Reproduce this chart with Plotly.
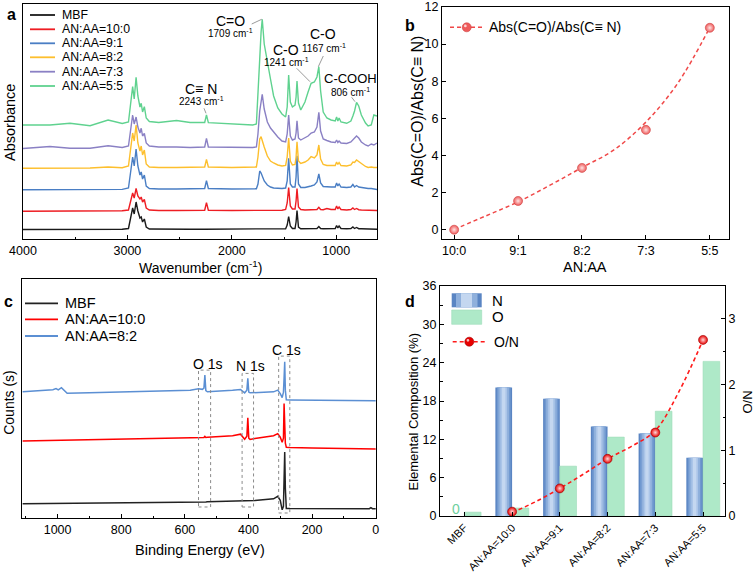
import plotly.graph_objects as go

W, H = 756, 579
FONT = "Arial, Liberation Sans, Helvetica, sans-serif"

# ---------------- (a) FTIR spectra (stacked) ----------------
ftir_names = ["MBF", "AN:AA=10:0", "AN:AA=9:1", "AN:AA=8:2", "AN:AA=7:3", "AN:AA=5:5"]
ftir_colors = ["#1a1a1a", "#ee1d23", "#4a7ec4", "#fdbf2d", "#8a80c4", "#5fd28f"]
wavenumber = [4000, 3742, 3550, 3358, 3185, 3050, 2990, 2965, 2950, 2935,
              2917, 2900, 2880, 2868, 2855, 2838, 2820, 2790, 2700, 2530,
              2400, 2260, 2243, 2225, 2000, 1800, 1765, 1750, 1733, 1720,
              1709, 1690, 1660, 1630, 1600, 1560, 1520, 1485, 1470, 1456,
              1440, 1420, 1395, 1385, 1376, 1362, 1340, 1300, 1270, 1241,
              1210, 1185, 1167, 1150, 1125, 1090, 1050, 1010, 997, 985,
              973, 955, 900, 860, 841, 825, 806, 785, 760, 720,
              695, 665, 640, 610]
abs_mbf = [9.5, 9.5, 9.6, 9.6, 9.7, 9.7, 10.5, 24, 31, 25,
           37, 28, 21, 22, 17, 20, 12, 10, 9.8, 9.8,
           9.8, 9.8, 9.8, 9.8, 9.8, 9.8, 9.8, 9.8, 9.8, 9.8,
           9.8, 9.8, 9.8, 9.8, 9.8, 9.8, 10, 10.3, 14, 22.5,
           13, 10.5, 10.5, 17, 28.5, 12, 10.3, 10.2, 10.2, 10.2,
           10.2, 10.5, 12.5, 10.5, 10.2, 10.2, 10.2, 10.5, 13.5, 11,
           13, 10.5, 10.3, 10.5, 12, 10.5, 11.5, 10.3, 10.2, 10,
           10, 9.9, 9.9, 9.8]
abs_an100 = [27.8, 27.8, 27.9, 28, 28, 28.2, 29, 40, 46, 41,
             50.5, 43, 40, 42, 37, 39.5, 31, 29, 28.5, 28.5,
             28.5, 28.8, 36.3, 28.8, 28.5, 28.5, 28.5, 28.5, 28.5, 28.5,
             28.5, 28.5, 28.5, 28.5, 28.5, 28.6, 28.8, 29.5, 36, 51.5,
             33, 30, 30, 38, 50.5, 32, 29.5, 29, 29, 29.5,
             29.3, 29.5, 31.7, 29.5, 29.3, 30.5, 29.5, 29.5, 33, 30,
             32, 29.5, 29, 29.5, 31, 29.5, 30.5, 29.3, 29, 28.8,
             28.5, 28.5, 28.5, 28.5]
abs_an91 = [49.2, 49.2, 49.3, 49.4, 49.5, 49.6, 51, 72, 82, 73,
            90, 73, 64, 67, 60, 64, 53, 50.5, 50, 50,
            50, 50.5, 58.3, 50.5, 50, 50, 50.3, 55, 68, 66,
            63, 58, 54, 52, 51, 50.5, 50.5, 51, 58, 80.7,
            55, 52, 52, 62, 83.3, 55, 51.5, 51.5, 52, 53,
            54, 57, 65, 56, 52.5, 52, 52, 52, 56, 53,
            55, 52, 51.5, 52, 54.5, 52, 53.5, 52, 51.5, 51,
            50.5, 50.5, 50, 49.5]
abs_an82 = [70.7, 70.8, 71, 71, 72, 71.3, 73, 98, 106, 98,
            114, 96, 88, 93, 84, 89, 75, 72, 71.5, 71.5,
            71.5, 72, 79.7, 72, 71.5, 71.5, 72, 82, 100, 102.3,
            98, 92, 83, 78, 76, 74, 73, 73.5, 82, 101,
            78, 74, 74.5, 82, 97.3, 78, 75.5, 77, 79, 82.3,
            81, 84, 94, 80, 74.5, 73.5, 73.5, 73.5, 77, 74.5,
            76.5, 73.5, 73, 74, 77, 76.5, 79, 77.5, 75, 72.5,
            71.5, 72, 71.5, 71.5]
abs_an73 = [90.5, 92.5, 90.8, 90.7, 93.3, 91.5, 93, 115, 124, 115,
            122, 112, 106, 110.7, 103, 105.7, 96, 93, 92, 92,
            91.5, 92, 100.7, 92, 91.5, 91.5, 92, 105, 128, 140,
            144.7, 130, 117, 111, 107, 102, 98, 97, 105, 124,
            103, 99, 100, 106, 118.3, 101, 99, 101, 103, 106,
            107, 112, 126.7, 108, 100, 98.5, 97, 96.5, 99, 96.5,
            98, 96, 95.5, 97, 99, 100, 103, 101, 97, 94,
            93, 95, 94, 96]
abs_an55 = [114, 114, 115.7, 113.3, 119, 115.5, 117, 143, 152.3, 140,
            161.7, 143, 132, 135.7, 127, 132.3, 121, 117.5, 116.5, 118.5,
            116.5, 116.5, 124, 116.3, 115, 114, 115, 140, 180, 207,
            219.7, 195, 176, 160, 143, 131, 125, 122, 132, 164,
            137, 132, 134, 142, 158, 136, 129, 137, 147, 155.7,
            157, 162, 172.3, 148, 127, 121, 119, 118, 122, 118,
            121, 117, 115.7, 118, 123, 128, 136.7, 133, 124, 116,
            113, 114, 124, 123]
ftir_series = [abs_mbf, abs_an100, abs_an91, abs_an82, abs_an73, abs_an55]

# ---------------- (b) absorbance ratio ----------------
ratio_labels = ["10:0", "9:1", "8:2", "7:3", "5:5"]
abs_ratio = [0.0, 1.55, 3.33, 5.38, 10.88]
ratio_fit_pos = [0, 0.5, 1, 1.5, 2, 2.5, 3, 3.5, 4]
ratio_fit = [0.02, 0.75, 1.5, 2.4, 3.35, 4.3, 5.8, 7.9, 10.9]

# ---------------- (c) XPS survey (stacked) ----------------
xps_names = ["MBF", "AN:AA=10:0", "AN:AA=8:2"]
xps_colors = ["#222222", "#ff0000", "#5b8fd3"]
binding_energy = [1110, 1015, 1005, 998, 988, 980, 970, 900, 700, 583,
                  557, 545, 540, 537, 534, 529, 450, 425, 412, 405,
                  402, 399, 395, 380, 321, 308, 300, 294, 290, 288,
                  286, 284, 281, 270, 200, 50, 20, 15, 10, 0]
counts_mbf = [14.5, 14.7, 14.7, 14.7, 14.8, 14.8, 14.8, 15.0, 15.6, 16.2,
              16.3, 16.4, 16.4, 16.4, 16.4, 16.5, 17.0, 17.2, 17.3, 17.4,
              17.4, 17.4, 17.5, 17.7, 19.5, 22, 18, 8.5, 12, 35,
              66.3, 30, 9.8, 9.7, 9.7, 9.6, 9.6, 10.6, 9.6, 9.5]
counts_an100 = [77.3, 77.8, 77.8, 77.9, 77.9, 77.9, 78, 78.4, 79.5, 80.3,
                80.5, 80.6, 80.7, 81.8, 80.8, 80.9, 82.5, 84, 79, 82,
                100.3, 80, 78.8, 79.8, 82.5, 84.5, 81, 76, 80, 114.7,
                95, 75, 71, 70.6, 70.3, 70, 69.8, 69.8, 69.6, 69.3]
counts_an82 = [126.3, 128.5, 129.5, 128.2, 130.5, 128, 124.8, 125.3, 127.2, 128,
               129.5, 128.8, 130, 143, 127.5, 126.3, 127.8, 128.7, 125.3, 128,
               139.7, 126, 125.3, 125.5, 126.3, 128, 124.5, 120.5, 126, 140,
               156.3, 128, 118.3, 118.2, 118.2, 118, 117.8, 117.8, 117.8, 117.5]
xps_series = [counts_mbf, counts_an100, counts_an82]
xps_regions = [("O 1s", 557, 519, 148, 11.3), ("N 1s", 420, 384, 144.7, 11.3),
               ("C 1s", 305, 270, 162, 5.3)]

# ---------------- (d) elemental composition ----------------
comp_labels = ["MBF", "AN:AA=10:0", "AN:AA=9:1", "AN:AA=8:2", "AN:AA=7:3", "AN:AA=5:5"]
n_pct = [0, 20.1, 18.35, 14.0, 12.9, 9.1]
o_pct = [0.6, 1.25, 7.8, 12.35, 16.4, 24.2]
on_ratio = [None, 0.066, 0.42, 0.87, 1.27, 2.68]
on_fit_pos = [1, 1.5, 2, 2.5, 3, 3.5, 4, 4.5, 5]
on_fit = [0.05, 0.22, 0.42, 0.64, 0.87, 1.06, 1.3, 1.9, 2.68]


def PX(x):
    return x / W


def PY(y):
    return 1 - y / H


fig = go.Figure()

# (a)
for name, col, ys in zip(ftir_names, ftir_colors, ftir_series):
    fig.add_trace(go.Scatter(x=wavenumber, y=ys, mode="lines", name=name,
                             line=dict(color=col, width=1.4), xaxis="x", yaxis="y",
                             showlegend=False))

# (b)
b_pos = list(range(len(ratio_labels)))
fig.add_trace(go.Scatter(x=ratio_fit_pos, y=ratio_fit, mode="lines",
                         line=dict(color="#f04848", width=1.5, dash="4px,3px", shape="spline"),
                         xaxis="x2", yaxis="y2", showlegend=False, hoverinfo="skip"))
fig.add_trace(go.Scatter(x=b_pos, y=abs_ratio, mode="markers", name="Abs(C=O)/Abs(C≡ N)",
                         marker=dict(size=9, color="#ee5a5a",
                                     gradient=dict(type="radial", color="#ffe4e4"),
                                     line=dict(color="#d04545", width=0.6)),
                         xaxis="x2", yaxis="y2", showlegend=False))

# (c)
for name, col, ys in zip(xps_names, xps_colors, xps_series):
    fig.add_trace(go.Scatter(x=binding_energy, y=ys, mode="lines", name=name,
                             line=dict(color=col, width=1.5), xaxis="x3", yaxis="y3",
                             showlegend=False))

# (d) bars with layered shading for N
d_pos = list(range(len(comp_labels)))
BW = 0.35
n_layers = [(BW, "#5a85c3"), (0.29, "#7199d0"), (0.22, "#8fb0dc"), (0.14, "#abc5e8"), (0.07, "#c4d7f0")]
for i, (w, c) in enumerate(n_layers):
    fig.add_trace(go.Bar(x=d_pos, y=n_pct, width=w, offset=-BW / 2 - w / 2,
                         marker=dict(color=c, line=dict(width=0)), name="N",
                         xaxis="x4", yaxis="y4", showlegend=False,
                         hoverinfo="y" if i == 0 else "skip"))
fig.add_trace(go.Bar(x=d_pos, y=o_pct, width=BW, offset=0,
                     marker=dict(color="#aee9c8", line=dict(width=0.6, color="#9edbb8")),
                     name="O", xaxis="x4", yaxis="y4", showlegend=False))
fig.add_trace(go.Scatter(x=on_fit_pos, y=on_fit, mode="lines",
                         line=dict(color="#ff1a1a", width=1.6, dash="4px,3px", shape="spline"),
                         xaxis="x4", yaxis="y5", showlegend=False, hoverinfo="skip"))
fig.add_trace(go.Scatter(x=d_pos, y=on_ratio, mode="markers", name="O/N",
                         marker=dict(size=9, color="#e80000",
                                     gradient=dict(type="radial", color="#ffd8d8"),
                                     line=dict(color="#a00000", width=0.6)),
                         xaxis="x4", yaxis="y5", showlegend=False))

axis_common = dict(showline=True, linecolor="black", linewidth=1, showgrid=False,
                   zeroline=False, tickcolor="black", tickwidth=1, automargin=False,
                   tickfont=dict(family=FONT, size=12.5, color="black"))

fig.update_layout(
    width=W, height=H, margin=dict(l=0, r=0, t=0, b=0, autoexpand=False),
    paper_bgcolor="white", plot_bgcolor="rgba(0,0,0,0)",
    font=dict(family=FONT, color="black"),
    barmode="overlay", showlegend=False,
    xaxis=dict(domain=[PX(23), PX(377)], range=[4000, 610], anchor="y", mirror=True,
               tick0=0, dtick=1000, ticks="inside", ticklen=4,
               minor=dict(dtick=500, ticks="inside", ticklen=2.5, tickcolor="black"),
               **axis_common),
    yaxis=dict(domain=[PY(239), PY(4)], range=[0, 235], anchor="x", mirror=True,
               showticklabels=False, ticks="", **axis_common),
    xaxis2=dict(domain=[PX(442), PX(729)], range=[-0.19, 4.3], anchor="y2", mirror=True,
                tickvals=b_pos, ticktext=ratio_labels, ticks="inside", ticklen=4,
                **axis_common),
    yaxis2=dict(domain=[PY(239), PY(7)], range=[-0.5, 12], anchor="x2", mirror=True,
                tick0=0, dtick=2, ticks="inside", ticklen=4, **axis_common),
    xaxis3=dict(domain=[PX(22), PX(376)], range=[1112, -1], anchor="y3", mirror=True,
                tick0=0, dtick=200, ticks="inside", ticklen=4,
                minor=dict(dtick=100, ticks="inside", ticklen=2.5, tickcolor="black"),
                **axis_common),
    yaxis3=dict(domain=[PY(518.3), PY(279)], range=[0, 239], anchor="x3", mirror=True,
                showticklabels=False, ticks="", **axis_common),
    xaxis4=dict(domain=[PX(440), PX(725)], range=[-0.51, 5.46], anchor="y4", mirror=True,
                tickvals=d_pos, ticktext=comp_labels, tickangle=-45, ticks="inside", ticklen=4,
                **{**axis_common, "tickfont": dict(family=FONT, size=11, color="black")}),
    yaxis4=dict(domain=[PY(516), PY(286)], range=[0, 36], anchor="x4",
                tick0=0, dtick=6, ticks="inside", ticklen=4,
                minor=dict(dtick=3, ticks="inside", ticklen=2.5, tickcolor="black"),
                **axis_common),
    yaxis5=dict(overlaying="y4", side="right", anchor="x4", range=[0, 3.5],
                tick0=0, dtick=1, ticks="inside", ticklen=4,
                minor=dict(dtick=0.5, ticks="inside", ticklen=2.5, tickcolor="black"),
                **axis_common),
)

ann = []


def T(text, x, y, size=13, color="black", xanchor="center", angle=0):
    ann.append(dict(text=text, x=PX(x), y=PY(y), xref="paper", yref="paper",
                    showarrow=False, xanchor=xanchor, yanchor="middle", textangle=angle,
                    font=dict(family=FONT, size=size, color=color)))


shapes = []


def L(x0, y0, x1, y1, color="black", width=1.0, dash="solid"):
    shapes.append(dict(type="line", xref="paper", yref="paper", x0=PX(x0), y0=PY(y0),
                       x1=PX(x1), y1=PY(y1), line=dict(color=color, width=width, dash=dash)))


def R(x0, y0, x1, y1, fill, line_color=None):
    shapes.append(dict(type="rect", xref="paper", yref="paper", x0=PX(x0), y0=PY(y0),
                       x1=PX(x1), y1=PY(y1), fillcolor=fill,
                       line=dict(width=0.6 if line_color else 0, color=line_color or fill)))


def C(cx, cy, r, fill, line_color):
    shapes.append(dict(type="circle", xref="paper", yref="paper", x0=PX(cx - r), x1=PX(cx + r),
                       y0=PY(cy + r), y1=PY(cy - r), fillcolor=fill,
                       line=dict(color=line_color, width=0.6)))
    shapes.append(dict(type="circle", xref="paper", yref="paper", x0=PX(cx - r * 0.6), x1=PX(cx),
                       y0=PY(cy), y1=PY(cy - r * 0.6), fillcolor="rgba(255,255,255,0.75)",
                       line=dict(width=0)))


# panel letters
for letter, x, y in [("a", 11, 15), ("b", 410, 25), ("c", 8.3, 301.7), ("d", 410, 301.7)]:
    T("<b>%s</b>" % letter, x, y, size=16)

# (a) legend
leg_a_y = [15, 29.3, 43.3, 57.3, 71.7, 86]
for name, col, yy in zip(ftir_names, ftir_colors, leg_a_y):
    L(30, yy, 55, yy, color=col, width=1.8)
    T(name, 60, yy, size=12.3, xanchor="left")

# (a) peak labels
T("C=O", 230.5, 20.7, 14)
T("1709 cm<sup>-1</sup>", 230, 33.3, 10)
T("C≡ N", 200.5, 89.3, 14)
T("2243 cm<sup>-1</sup>", 201.7, 100.7, 10)
T("C-O", 286.3, 50, 14)
T("1241 cm<sup>-1</sup>", 286.7, 61.7, 10)
T("C-O", 322.5, 34.3, 14)
T("1167 cm<sup>-1</sup>", 324, 48.3, 10)
T("C-COOH", 350, 78, 13)
T("806 cm<sup>-1</sup>", 350.7, 91.5, 10)
GREY = "#808080"
L(251.7, 24, 261.7, 19.3, GREY, 0.8)
L(204, 108.3, 206, 113.3, GREY, 0.8)
L(296.7, 68.3, 310, 81.7, GREY, 0.8)
L(323.3, 56, 318.3, 66.7, GREY, 0.8)
L(351.7, 97.3, 355, 101.7, GREY, 0.8)

# (a) axis titles
T("Wavenumber (cm<sup>-1</sup>)", 200, 267, 14)
T("Absorbance", 10, 123, 14.5, angle=-90)

# (b) legend and titles
L(450, 27.3, 485, 27.3, "#f04848", 1.5, "4px,3px")
C(466.7, 27.3, 4.5, "#ee5a5a", "#d04545")
T("Abs(C=O)/Abs(C≡ N)", 487, 27.3, 14, xanchor="left")
T("AN:AA", 585, 267, 14.5)
T("Abs(C=O)/Abs(C≡ N)", 416.7, 111, 16, angle=-90)

# (c) legend, region boxes and titles
leg_c_y = [303.3, 319.3, 336]
for name, col, yy in zip(xps_names, xps_colors, leg_c_y):
    L(25, yy, 58, yy, color=col, width=1.8)
    T(name, 63, yy, size=14.5, xanchor="left")
for label, e0, e1, top, bot in xps_regions:
    shapes.append(dict(type="rect", xref="x3", yref="y3", x0=e0, x1=e1, y0=bot, y1=top,
                       line=dict(color="#8a8a8a", width=1, dash="dot"),
                       fillcolor="rgba(0,0,0,0)"))
T("O 1s", 207.5, 364, 14)
T("N 1s", 250.5, 366, 14)
T("C 1s", 286, 350, 14)
T("Binding Energy (eV)", 200, 550, 14.5)
T("Counts (s)", 8.3, 402.5, 14, angle=-90)

# (d) legend and titles
R(451.7, 293.3, 481.7, 307.3, "#5a85c3")
R(456, 293.3, 477.5, 307.3, "#8fb0dc")
R(461, 293.3, 472, 307.3, "#c4d7f0")
R(451.7, 310, 481.7, 324.3, "#aee9c8", "#9edbb8")
T("N", 490, 300, 15, xanchor="left")
T("O", 490, 316.7, 15, xanchor="left")
L(452.7, 341.7, 486.7, 341.7, "#ff1a1a", 1.6, "4px,3px")
C(469.3, 341.7, 4.5, "#e80000", "#a00000")
T("O/N", 491.7, 341.7, 14, xanchor="left")
T("0", 456, 509, 14, color="#6dcf9d")
T("Elemental Composition (%)", 412.5, 411, 13, angle=-90)
T("O/N", 747, 402.5, 13, angle=-90)

fig.update_layout(annotations=ann, shapes=shapes)
fig.write_html("out.html", config={"displayModeBar": False},
               post_script="document.body.style.margin='0px';document.body.style.padding='0px';")
